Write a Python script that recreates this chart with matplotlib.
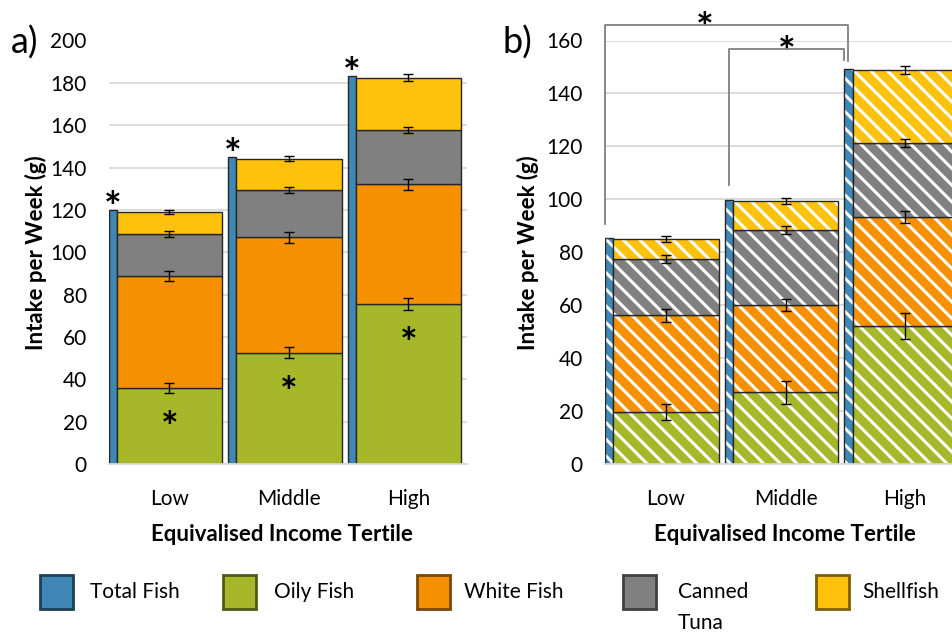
import numpy as np
import matplotlib
matplotlib.use("Agg")
import matplotlib.pyplot as plt
from matplotlib.patches import Rectangle

plt.rcParams["font.family"] = ["Lato", "DejaVu Sans"]
plt.rcParams["hatch.linewidth"] = 2.2

# categories / series
tertiles = ["Low", "Middle", "High"]
series = ["Total Fish", "Oily Fish", "White Fish", "Canned\nTuna", "Shellfish"]

# panel a) values (g per week)
total_a = [120.0, 145.0, 183.3]
oily_a = [36.0, 52.6, 75.4]
white_a = [52.8, 54.4, 56.6]
canned_a = [19.8, 22.4, 25.9]
shell_a = [10.5, 14.8, 24.6]
oily_err_a = [2.4, 2.6, 2.8]
white_err_a = [2.4, 2.4, 2.4]
canned_err_a = [1.4, 1.4, 1.4]
shell_err_a = [1.0, 1.2, 1.6]

# panel b) values (g per week)
total_b = [85.2, 99.7, 149.2]
oily_b = [19.7, 27.1, 52.2]
white_b = [36.5, 32.9, 41.0]
canned_b = [21.3, 28.4, 28.0]
shell_b = [7.5, 10.9, 27.6]
oily_err_b = [3.1, 4.4, 4.9]
white_err_b = [2.4, 2.3, 2.2]
canned_err_b = [1.5, 1.4, 1.4]
shell_err_b = [1.1, 1.1, 1.5]

colors = ["#3F88B5", "#A6B82A", "#F59100", "#808080", "#FFC20C"]
legend_edges = ["#1E4057", "#505915", "#7A4700", "#404040", "#7D5F06"]
EDGE = "#262626"
GRID = "#D9D9D9"
STACK_W = 0.88
TOT_W = 0.068
FS = 15
LFS = 16
STAR = dict(fontsize=30, fontweight="bold", ha="center", va="baseline",
            textcoords="offset pixels", annotation_clip=False)

W, H = 953, 633


def bar(ax, xpos, h, w, b, col, hatched):
    if hatched:
        ax.bar(xpos, h, w, bottom=b, color=col, edgecolor="white", linewidth=0, hatch="\\\\")
        ax.bar(xpos, h, w, bottom=b, fill=False, edgecolor=EDGE, linewidth=1)
    else:
        ax.bar(xpos, h, w, bottom=b, color=col, edgecolor=EDGE, linewidth=1)


def draw_panel(ax, total, parts, errs, hatched):
    x = np.arange(len(tertiles))
    bar(ax, x - STACK_W / 2 - TOT_W / 2, total, TOT_W, 0, colors[0], hatched)
    bottoms = np.zeros(len(x))
    for vals, err, col in zip(parts, errs, colors[1:]):
        bar(ax, x, vals, STACK_W, bottoms, col, hatched)
        bottoms = bottoms + np.array(vals)
        ax.errorbar(x, bottoms, yerr=err, fmt="none", ecolor="black",
                    elinewidth=1, capsize=3.5, capthick=1, zorder=3)


def style_axis(ax, ymax, xlim):
    ax.set_ylim(0, ymax)
    ax.set_xlim(*xlim)
    ax.set_yticks(np.arange(0, ymax + 1, 20))
    ax.set_xticks(np.arange(len(tertiles)))
    ax.set_xticklabels(tertiles)
    ax.tick_params(length=0, labelsize=FS)
    ax.tick_params(axis="y", pad=16)
    ax.tick_params(axis="x", pad=18)
    ax.yaxis.grid(True, color=GRID, linewidth=1.3)
    ax.set_axisbelow(True)
    for s in ["top", "right", "left"]:
        ax.spines[s].set_visible(False)
    ax.spines["bottom"].set_color(GRID)
    ax.spines["bottom"].set_linewidth(1.3)
    ax.set_ylabel("Intake per Week (g)", fontsize=LFS, fontweight="bold")
    ax.set_xlabel("Equivalised Income Tertile", fontsize=LFS, fontweight="bold")


fig = plt.figure(figsize=(W / 100, H / 100), dpi=100)
ax_a = fig.add_axes([109 / W, 1 - 464 / H, 358 / W, 423.5 / H])
ax_b = fig.add_axes([605 / W, 1 - 464 / H, 348 / W, 423.5 / H])

draw_panel(ax_a, total_a, [oily_a, white_a, canned_a, shell_a],
           [oily_err_a, white_err_a, canned_err_a, shell_err_a], False)
draw_panel(ax_b, total_b, [oily_b, white_b, canned_b, shell_b],
           [oily_err_b, white_err_b, canned_err_b, shell_err_b], True)

style_axis(ax_a, 200, (-0.506, 2.49))
style_axis(ax_b, 160, (-0.51, 2.40))
ax_a.xaxis.set_label_coords(0.482, -0.142)
ax_a.yaxis.set_label_coords(-0.173, 0.5)
ax_b.xaxis.set_label_coords(0.517, -0.142)
ax_b.yaxis.set_label_coords(-0.19, 0.5)

# significance stars, panel a
x = np.arange(len(tertiles))
tot_x = x - STACK_W / 2 - TOT_W / 2
for xi, tx, t, o in zip(x, tot_x, total_a, oily_a):
    ax_a.annotate("*", (tx, t), xytext=(0, -12), **STAR)
    ax_a.annotate("*", (xi, o), xytext=(0, -54), **STAR)


# brackets, panel b
def bracket(ax, xl, xr, yl, yr, top, sx):
    ax.plot([xl, xl, xr, xr], [yl, top, top, yr], color="#7F7F7F",
            linewidth=1.3, clip_on=False, zorder=4)
    ax.annotate("*", (sx, top), xytext=(0, -18), **STAR)


bracket(ax_b, -0.508, tot_x[2], total_b[0] + 5.5, total_b[2] + 3.0, 165.9, 0.324)
bracket(ax_b, tot_x[1], tot_x[2] - TOT_W / 2, total_b[1] + 5.6, total_b[2] + 3.5, 156.7, 1.007)

fig.text(11 / W, 1 - 43 / H, "a)", fontsize=26, va="center", ha="left")
fig.text(503 / W, 1 - 43 / H, "b)", fontsize=26, va="center", ha="left")

# legend
leg_patch_x = [40, 223, 417, 623, 816]
leg_text_x = [90, 274, 464, 678, 862]
for px, tx, name, col, ec in zip(leg_patch_x, leg_text_x, series, colors, legend_edges):
    fig.add_artist(Rectangle((px / W, 1 - 609 / H), 33 / W, 34 / H, transform=fig.transFigure,
                             facecolor=col, edgecolor=ec, linewidth=2))
    for k, line in enumerate(name.split("\n")):
        fig.text(tx / W, 1 - (592 + 31 * k) / H, line, fontsize=FS, va="center", ha="left")

fig.savefig("out.png", dpi=100)
